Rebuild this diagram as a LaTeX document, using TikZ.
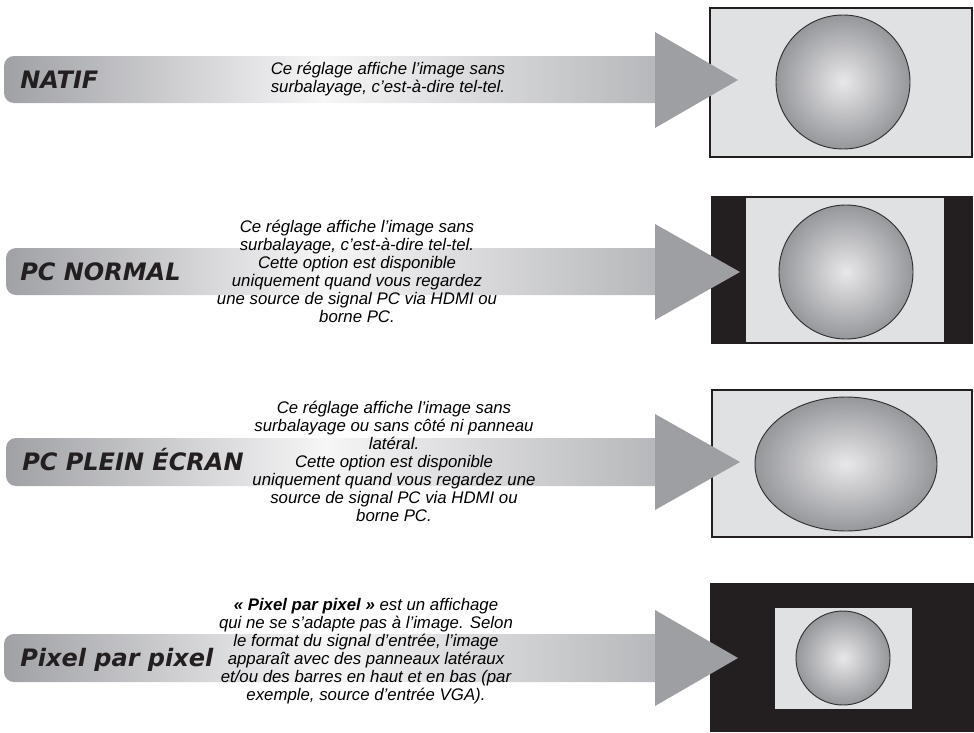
\documentclass[tikz,border=0pt]{standalone}
\usepackage{fontspec}
\setmainfont{Liberation Sans}
\newfontfamily\titlefont{DejaVu Sans}
\definecolor{bardark}{RGB}{160,161,165}
\definecolor{barlight}{RGB}{246,246,247}
\definecolor{barright}{RGB}{180,181,184}
\definecolor{headgray}{RGB}{158,159,163}
\definecolor{screenlight}{RGB}{224,225,227}
\definecolor{screenedge}{RGB}{35,31,32}
\definecolor{ballin}{RGB}{232,232,234}
\definecolor{ballout}{RGB}{150,151,155}
\definecolor{balledge}{RGB}{50,48,50}
\pgfdeclarehorizontalshading{barshade}{100bp}{color(0bp)=(bardark); color(25bp)=(bardark); color(49bp)=(barlight); color(75bp)=(barright); color(100bp)=(barright)}
\tikzset{
  bar/.style={shading=barshade, rounded corners=7.5pt},
  head/.style={fill=headgray},
  screen/.style={fill=screenlight, draw=screenedge, line width=1.2pt},
  blackbar/.style={fill=screenedge},
  ball/.style={inner color=ballin, outer color=ballout, draw=balledge, line width=0.7pt},
  title/.style={font=\titlefont\bfseries\itshape\fontsize{18}{20}\selectfont, text=screenedge, anchor=base west, inner sep=0pt},
  desc/.style={font=\itshape\fontsize{12.6}{13.5}\selectfont, align=center, inner sep=0pt, text=black}
}
\begin{document}
\begin{tikzpicture}[x=0.75pt,y=-0.75pt]
\useasboundingbox (0,0) rectangle (974,732);
% ---------- Panel 1 : NATIF ----------
\shade[bar] (4,56) rectangle (670,103);
\draw[screen] (710,8) rectangle (972,157);
\shadedraw[ball] (843,82) circle[radius=67];
\fill[head] (655,32) -- (738,80) -- (655,128) -- cycle;
\node[title] (t1) at (20,88) {NATIF};
\node[desc] (d1) at (388,79.5) {Ce réglage affiche l’image sans\\surbalayage, c’est-à-dire tel-tel.};
% ---------- Panel 2 : PC NORMAL ----------
\shade[bar] (6,248) rectangle (670,295);
\draw[screen] (712,197) rectangle (972,343);
\fill[blackbar] (712,197) rectangle (746,343);
\fill[blackbar] (944,197) rectangle (972,343);
\shadedraw[ball] (846,272) circle[radius=67];
\fill[head] (655,224) -- (740,272) -- (655,320) -- cycle;
\node[title] (t2) at (20,280) {PC NORMAL};
\node[desc] (d2) at (357,271) {Ce réglage affiche l’image sans\\surbalayage, c’est-à-dire tel-tel.\\Cette option est disponible\\uniquement quand vous regardez\\une source de signal PC via HDMI ou\\borne PC.};
% ---------- Panel 3 : PC PLEIN ECRAN ----------
\shade[bar] (6,438) rectangle (670,486);
\draw[screen] (712,390) rectangle (972,537);
\shadedraw[ball] (846,464) ellipse[x radius=91, y radius=67];
\fill[head] (655,414) -- (740,462) -- (655,510) -- cycle;
\node[title] (t3) at (22,470) {PC PLEIN ÉCRAN};
\node[desc] (d3) at (394,461) {Ce réglage affiche l’image sans\\surbalayage ou sans côté ni panneau\\latéral.\\Cette option est disponible\\uniquement quand vous regardez une\\source de signal PC via HDMI ou\\borne PC.};
% ---------- Panel 4 : Pixel par pixel ----------
\shade[bar] (4,634) rectangle (670,682);
\fill[blackbar] (710,583) rectangle (974,732);
\fill[screenlight] (775,608) rectangle (912,709);
\shadedraw[ball] (843,658) circle[radius=47];
\fill[head] (655,610) -- (738,658) -- (655,706) -- cycle;
\node[title] (t4) at (20,666) {Pixel par pixel};
\node[desc] (d4) at (366,651) {{\bfseries « Pixel par pixel »} est un affichage\\qui ne se s’adapte pas à l’image. Selon\\le format du signal d’entrée, l’image\\apparaît avec des panneaux latéraux\\et/ou des barres en haut et en bas (par\\exemple, source d’entrée VGA).};
\end{tikzpicture}
\end{document}
